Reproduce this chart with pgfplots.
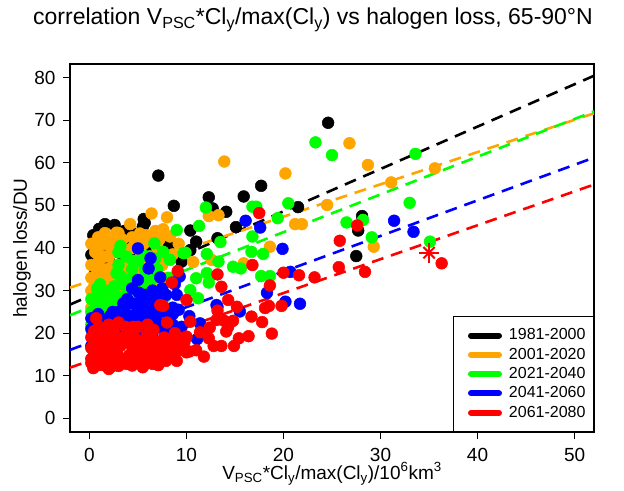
\documentclass[border=0pt]{standalone}
\usepackage{pgfplots}
\pgfplotsset{compat=1.18}
\usepackage{fontspec}
\setmainfont{Liberation Sans}
\definecolor{rorange}{HTML}{FFA500}
\definecolor{rgreen}{HTML}{00FF00}
\definecolor{rblue}{HTML}{0000FF}
\definecolor{rred}{HTML}{FF0000}
\pgfplotsset{
  pts/.style={only marks, mark=*, mark size=5.9bp, color=#1, mark options={solid, fill=#1, draw=#1, line width=0.5bp}, forget plot},
  rl/.style={no marks, color=#1, line width=2.6bp, dash pattern=on 12bp off 8bp, forget plot},
}
\begin{document}
\begin{tikzpicture}
\begin{axis}[
  name=ax, at={(0,0)}, anchor=south west,
  scale only axis, width=524bp, height=368bp,
  xmin=-2, xmax=52, ymin=-3.2, ymax=83.2,
  xtick={0,10,20,30,40,50}, ytick={0,10,20,30,40,50,60,70,80},
  xtick pos=left, ytick pos=left,
  tick align=outside, major tick length=7bp,
  tick style={black, line width=1bp},
  axis line style={line width=1.3bp},
  ticklabel style={font=\fontsize{19bp}{22bp}\selectfont},
  xticklabel style={yshift=-6bp},
  yticklabel style={xshift=-4bp},
  /pgf/number format/assume math mode=true,
  legend cell align=left,
  legend image code/.code={\path[draw=none, fill=none] (0bp,0bp) -- (47bp,0bp); \draw[line width=6bp, line cap=round] (13bp,0bp) -- (41bp,0bp);},
  legend style={at={(1,0)}, anchor=south east, draw=black, line width=1bp, fill=white,
    font=\fontsize{16bp}{19bp}\selectfont, inner xsep=4bp, inner ysep=11bp, row sep=3.8bp,
    nodes={inner xsep=4bp, inner ysep=0bp, text height=12bp, text depth=3.5bp}},
]
\addlegendimage{color=black}\addlegendentry{1981-2000}
\addlegendimage{color=rorange}\addlegendentry{2001-2020}
\addlegendimage{color=rgreen}\addlegendentry{2021-2040}
\addlegendimage{color=rblue}\addlegendentry{2041-2060}
\addlegendimage{color=rred}\addlegendentry{2061-2080}

% 1981-2000
\addplot[pts=black] coordinates {
(24.6,69.4)(7.1,57.0)(8.7,49.9)(17.7,54.6)(12.3,51.9)(15.9,52.1)(14.1,48.5)(10.4,44.1)(15.1,44.9)(12.7,49.3)
(28.1,47.5)(27.7,44.1)(27.5,38.1)(21.5,49.6)(13.2,42.3)(9.5,36.8)(10.4,39.5)(5.6,46.8)(5.7,45.9)(4.1,44.6)
(1.6,45.6)(2.6,45.4)(0.5,41.3)(3.8,41.9)(4.9,40.9)(0.2,38.4)(5.5,45.0)(4.4,43.5)(8.2,40.5)(6.5,42.5)
(3.0,39.0)(0.3,36.0)(0.6,34.0)(1.0,38.0)(1.5,40.0)(2.0,37.0)(2.5,35.0)(3.5,37.0)(4.0,36.0)(4.5,39.0)
(5.0,38.0)(5.5,36.0)(1.2,32.0)(2.2,31.0)(3.2,33.0)(0.8,30.0)(1.8,28.5)(4.2,32.0)(5.8,33.0)(6.5,35.0)
(7.2,37.0)(6.0,40.0)(0.4,43.0)(2.8,42.0)(1.0,44.5)(3.6,44.0)(8.8,38.0)(11.0,41.5)
};
\addplot[rl=black] coordinates {(-2,26.71) (52,80.44)};

% 2001-2020
\addplot[pts=rorange] coordinates {
(13.9,60.3)(20.2,57.5)(26.8,64.6)(28.7,59.5)(31.1,55.4)(24.5,50.1)(21.2,45.6)(21.9,45.6)(29.3,40.3)(18.6,40.3)
(15.9,36.4)(12.3,47.5)(13.3,47.7)(10.7,36.7)(12.6,37.2)(35.6,58.7)(6.4,48.1)(4.2,45.6)(8.0,47.2)(7.6,44.4)
(5.2,43.4)(8.3,42.7)(3.0,43.5)(1.8,40.9)(2.8,43.6)(0.3,28)(0.5,31)(0.8,34)(1.0,37)(1.2,29)
(1.5,32)(1.8,35)(2.0,38)(2.3,30)(2.6,33)(2.9,36)(3.2,39)(3.5,31)(3.8,34)(4.1,37)
(4.4,40)(4.7,33)(5.0,36)(5.3,39)(5.6,41)(6.0,35)(6.3,38)(6.6,32)(7.0,40)(0.2,26)
(0.6,39)(1.3,42)(2.1,41.5)(3.4,42)(7.5,36)(8.6,38.5)(9.2,41)(6.8,44)(2.4,27)(4.0,29.5)
(5.5,31)(0.9,40)(1.6,26.5)(3.0,28)(8.0,33)
(0.2,30)(0.2,33)(0.2,36)(0.2,41)(0.9,27.5)(0.9,31.5)(0.9,35.5)(0.9,42.5)(1.6,30)(1.6,34)
(1.6,38)(1.6,43.5)(2.3,28.5)(2.3,35.5)(2.3,39.5)(3.0,30.5)(3.0,34.5)(3.0,41)(3.7,29)(3.7,32.5)
(3.7,36)(3.7,39.5)(4.4,31)(4.4,35)(4.4,42.5)(5.1,29.5)(5.1,33.5)(5.1,41)(5.8,34)(5.8,37.5)
(5.8,43)(6.5,36.5)(6.5,41.5)(7.2,38.5)(7.2,42)
};
\addplot[rl=rorange] coordinates {(-2,30.68) (52,71.62)};

% 2021-2040
\addplot[pts=rgreen] coordinates {
(23.3,64.8)(25.0,61.8)(20.5,50.5)(26.5,46.0)(28.2,46.6)(29.1,42.5)(19.4,47.0)(16.8,49.7)(17.2,49.7)(12.0,49.5)
(11.3,45.2)(16.8,42.7)(16.7,39.1)(17.9,38.6)(14.8,35.6)(15.6,35.2)(13.5,41.4)(13.3,36.8)(12.1,38.6)(9.9,38.9)
(12.1,34.1)(11.0,32.9)(12.3,31.9)(10.4,30.1)(11.2,28.2)(17.7,33.4)(18.6,33.4)(33.6,62.1)(33.0,50.6)(35.1,41.5)
(3.2,40.5)(9.0,44.2)(6.7,41.1)(5.7,38.1)(7.6,39.1)(9.7,38.8)(2.8,34.1)(8.3,37.2)
(0.3,20)(0.5,23)(0.7,26)(0.9,29)(1.1,31.5)(1.4,21)(1.6,24)(1.8,27)(2.0,30)
(2.5,19.5)(2.7,22.5)(2.9,25.5)(3.1,28.5)(3.3,31.5)(3.6,21)(3.8,24)(4.0,27)(4.2,30)
(4.5,33)(4.8,25)(5.1,28)(5.4,31)(5.7,35)(6.0,29)(6.4,32.5)(7.0,35)(7.5,30)(8.2,33)
(3.0,36)(4.5,37)(6.2,38)(5.5,22.5)(6.8,26)(7.8,28.5)(0.8,17.5)(1.9,17.5)
(0.2,22)(0.2,25)(0.2,28)(0.8,21)(0.8,24.5)(0.8,27.5)(0.8,30.5)(1.4,19)
(1.4,22.5)(1.4,26)(1.4,29.5)(2.0,20.5)(2.0,23.5)(2.0,26.5)(2.6,21)
(2.6,24)(2.6,28)(2.6,31)(3.2,23)(3.2,26.5)(3.2,33.5)(3.8,22.5)(3.8,29)(3.8,32.5)
(3.8,38)(4.4,23.5)(4.4,28.5)(4.4,35)(5.0,26.5)(5.0,30)(5.0,37)(5.6,33)(6.2,35.5)(6.8,37.5)
(3.0,39)
};
\addplot[rl=rgreen] coordinates {(-2,24.23) (52,72.07)};

% 2041-2060
\addplot[pts=rblue] coordinates {
(31.4,46.4)(33.4,43.8)(16.1,46.4)(17.6,44.8)(19.9,39.8)(20.7,34.4)(18.3,29.5)(20.2,27.4)(21.7,26.9)(13.2,26.2)
(15.5,25.1)(11.1,18.6)(6.1,35.2)(7.3,33.1)(5.0,39.9)(6.3,37.6)(5.8,29.0)(3.5,27.0)(9.3,33.3)
(11.4,22.3)(13.1,26.6)
(0.3,19)(0.6,22)(0.9,24.5)(1.5,18.5)(1.8,21)(2.1,24)(2.4,25)(3.0,20)
(3.3,23)(3.6,25.5)(3.9,28)(4.2,19)(4.5,22)(4.8,24.5)(5.1,27)(5.4,21)(5.7,23.5)(6.0,26)
(6.3,28.5)(6.6,22)(7.0,24.5)(7.4,27)(7.8,20.5)(8.2,23.5)(8.6,26)(9.0,29)(9.5,21.5)(10.3,24)
(4.4,30.5)(5.0,32.5)(7.5,30.5)(8.8,31.5)(3.0,17)(6.0,18.5)(1.0,16.5)(8.0,17.5)
(0.2,17)(0.2,21)(0.2,23.5)(0.9,18)(0.9,20.5)(1.6,17)(1.6,19.5)(1.6,22.5)
(2.3,18)(2.3,21)(2.3,23.5)(3.0,18.5)(3.0,22)(3.0,25)(3.7,18)(3.7,20.5)(3.7,23.5)(4.4,20)
(4.4,24)(4.4,27)(5.1,19)(5.1,22.5)(5.1,25.5)(5.1,29.5)(5.8,20)(5.8,24.5)(5.8,27.5)(6.5,20)
(6.5,23.5)(6.5,26.5)(6.5,30)(7.2,22)(7.2,25.5)(7.2,28.5)(7.9,22.5)(7.9,25)(7.9,29)(8.6,22)
(8.6,24.5)(9.2,25.5)
};
\addplot[rl=rblue] coordinates {(-2,16.08) (52,61.22)};

% 2061-2080
\addplot[pts=rred] coordinates {
(36.3,36.4)(27.6,45.3)(25.8,41.7)(25.7,35.5)(28.4,34.4)(23.2,33.1)(21.6,33.6)(20.0,34.2)(17.5,48.2)(16.8,36.0)
(18.6,31.2)(18.5,26.4)(19.8,26.4)(16.7,23.9)(17.8,22.6)(18.8,19.9)(16.4,19.3)(15.4,18.8)(14.9,17.0)(13.6,17.0)
(12.8,17.0)(14.3,21.5)(15.2,26.2)(14.3,27.8)(13.6,30.9)(13.2,33.8)(13.2,25.3)(12.4,21.3)(11.4,20.2)(10.3,15.7)
(10.0,19.2)(10.0,27.8)(13.9,22.9)(14.8,22.9)(13.1,23.1)(12.3,18.8)(10.4,22.7)(9.8,18.0)(14.1,20.4)(18.1,25.9)
(9.1,34.6)(8.5,31.9)(7.6,26.4)(7.3,26.6)(2.5,20.4)(3.7,21.5)(5.0,21.5)(6.6,20.8)
(0.2,13)(0.5,15)(0.8,17)(1.1,19)(1.4,12.5)(1.7,14.5)(2.0,16.5)(2.3,18.5)(2.6,13)(2.9,15)
(3.2,17)(3.5,19)(3.8,12.8)(4.1,14.8)(4.4,16.8)(4.7,18.8)(5.0,13.5)(5.3,15.5)(5.6,17.5)(5.9,19.5)
(6.2,14)(6.5,16)(6.8,18)(7.1,14.5)(7.4,16.5)(7.7,19)(8.0,15)(8.4,17)(8.8,20)(9.2,16)
(1.0,21.5)(0.4,11.8)(2.0,11.6)(4.5,21.5)(6.0,22)(8.0,22.5)(9.5,18.5)(11.0,16)(0.7,23.5)(1.5,20.5)
(3.0,22.5)(7.1,12.5)(5.5,12.0)(9.0,13.5)(11.8,14.5)
(0.2,14)(0.2,16.5)(0.2,19)(0.9,12.5)(0.9,14)(0.9,18.5)(1.6,16)(1.6,18)(2.3,12.2)(2.3,14)
(2.3,20)(3.0,12.3)(3.0,18)(3.7,14)(3.7,18)(4.4,12.4)(4.4,19.5)(5.1,14.5)(5.1,17)(5.8,13)
(5.8,15.5)(6.5,12.8)(6.5,18.5)(7.2,15.5)(7.2,17.5)(7.9,13.5)(7.9,17.5)(8.6,14.5)(8.6,18.5)(9.3,17.5)
(10.0,15.5)(0.5,20.5)(2.0,22)
};
\addplot[rl=rred] coordinates {(-2,11.91) (52,54.89)};

% asterisk
\addplot[only marks, mark=+, mark size=10bp, color=rred, line width=2bp, forget plot] coordinates {(35.0,38.9)};
\addplot[only marks, mark=x, mark size=8bp, color=rred, line width=2bp, forget plot] coordinates {(35.0,38.9)};
\end{axis}
\node[font=\fontsize{23bp}{27bp}\selectfont] at ([xshift=243bp, yshift=412bp]ax.south west)
  {correlation V\textsubscript{PSC}*Cl\textsubscript{y}/max(Cl\textsubscript{y}) vs halogen loss, 65-90°N};
\node[font=\fontsize{19bp}{22bp}\selectfont, rotate=90] at ([xshift=-48bp, yshift=184bp]ax.south west) {halogen loss/DU};
\node[font=\fontsize{19bp}{22bp}\selectfont] at ([xshift=262bp, yshift=-42bp]ax.south west)
  {V\textsubscript{PSC}*Cl\textsubscript{y}/max(Cl\textsubscript{y})/10\textsuperscript{6}km\textsuperscript{3}};
\pgfresetboundingbox
\path ([xshift=-70bp, yshift=-59bp]ax.south west) rectangle ++(624bp,491bp);
\end{tikzpicture}
\end{document}
